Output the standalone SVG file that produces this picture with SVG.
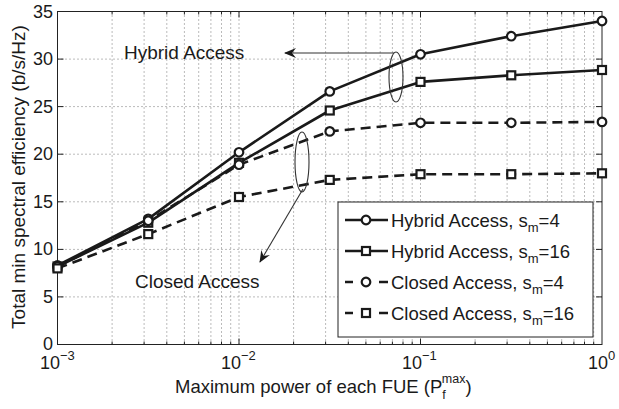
<svg xmlns="http://www.w3.org/2000/svg" width="619" height="409" viewBox="0 0 619 409">
  <style>
    text { font-family: "Liberation Sans", Arial, sans-serif; fill: #1a1a1a; }
    .tick { font-size: 18px; }
    .sup { font-size: 13px; }
    .lab { font-size: 19px; }
    .xlab { font-size: 18.5px; }
    .xsup { font-size: 12.5px; }
    .leg { font-size: 18.5px; }
    .lsub { font-size: 13px; }
    .grid line { stroke: #777; stroke-width: 1; stroke-dasharray: 1 3; }
    .curve { fill: none; stroke: #1a1a1a; stroke-width: 2.6; stroke-linejoin: round; }
    .dash { stroke-dasharray: 10 6; }
    .mk { fill: #fff; stroke: #1a1a1a; stroke-width: 2.2; }
    .note { fill: none; stroke: #333; stroke-width: 1.1; }
  </style>
  <defs>
    <g id="circ"><circle r="4.3" class="mk"/></g>
    <g id="sq"><rect x="-4" y="-4" width="8" height="8" class="mk"/></g>
    <marker id="arr" viewBox="0 0 12 10" refX="11" refY="5" markerWidth="12" markerHeight="10" markerUnits="userSpaceOnUse" orient="auto">
      <path d="M0,0 L12,5 L0,10 L4,5 Z" fill="#1a1a1a"/>
    </marker>
  </defs>

  <rect width="619" height="409" fill="#fff"/>

  <!-- grid: decades and sub-decades on x, every 5 on y -->
  <g class="grid">
    <line x1="112.1" y1="11.5" x2="112.1" y2="344.5"/><line x1="144.1" y1="11.5" x2="144.1" y2="344.5"/>
    <line x1="166.8" y1="11.5" x2="166.8" y2="344.5"/><line x1="184.4" y1="11.5" x2="184.4" y2="344.5"/>
    <line x1="198.7" y1="11.5" x2="198.7" y2="344.5"/><line x1="210.9" y1="11.5" x2="210.9" y2="344.5"/>
    <line x1="221.5" y1="11.5" x2="221.5" y2="344.5"/><line x1="230.7" y1="11.5" x2="230.7" y2="344.5"/>
    <line x1="239" y1="11.5" x2="239" y2="344.5"/>
    <line x1="293.6" y1="11.5" x2="293.6" y2="344.5"/><line x1="325.6" y1="11.5" x2="325.6" y2="344.5"/>
    <line x1="348.3" y1="11.5" x2="348.3" y2="344.5"/><line x1="365.9" y1="11.5" x2="365.9" y2="344.5"/>
    <line x1="380.2" y1="11.5" x2="380.2" y2="344.5"/><line x1="392.4" y1="11.5" x2="392.4" y2="344.5"/>
    <line x1="403" y1="11.5" x2="403" y2="344.5"/><line x1="412.2" y1="11.5" x2="412.2" y2="344.5"/>
    <line x1="420.5" y1="11.5" x2="420.5" y2="344.5"/>
    <line x1="475.1" y1="11.5" x2="475.1" y2="344.5"/><line x1="507.1" y1="11.5" x2="507.1" y2="344.5"/>
    <line x1="529.8" y1="11.5" x2="529.8" y2="344.5"/><line x1="547.4" y1="11.5" x2="547.4" y2="344.5"/>
    <line x1="561.7" y1="11.5" x2="561.7" y2="344.5"/><line x1="573.9" y1="11.5" x2="573.9" y2="344.5"/>
    <line x1="584.5" y1="11.5" x2="584.5" y2="344.5"/><line x1="593.7" y1="11.5" x2="593.7" y2="344.5"/>
    <line x1="57.5" y1="296.9" x2="602" y2="296.9"/><line x1="57.5" y1="249.4" x2="602" y2="249.4"/>
    <line x1="57.5" y1="201.8" x2="602" y2="201.8"/><line x1="57.5" y1="154.2" x2="602" y2="154.2"/>
    <line x1="57.5" y1="106.6" x2="602" y2="106.6"/><line x1="57.5" y1="59.1" x2="602" y2="59.1"/>
  </g>

  <!-- axes frame and inward ticks -->
  <g id="axes">
    <rect x="57.5" y="11.5" width="544.5" height="333" fill="none" stroke="#222" stroke-width="1"/>
    <path d="M112.1,344.5v-3M144.1,344.5v-3M166.8,344.5v-3M184.4,344.5v-3M198.7,344.5v-3M210.9,344.5v-3M221.5,344.5v-3M230.7,344.5v-3M239,344.5v-6
             M293.6,344.5v-3M325.6,344.5v-3M348.3,344.5v-3M365.9,344.5v-3M380.2,344.5v-3M392.4,344.5v-3M403,344.5v-3M412.2,344.5v-3M420.5,344.5v-6
             M475.1,344.5v-3M507.1,344.5v-3M529.8,344.5v-3M547.4,344.5v-3M561.7,344.5v-3M573.9,344.5v-3M584.5,344.5v-3M593.7,344.5v-3
             M112.1,11.5v3M144.1,11.5v3M166.8,11.5v3M184.4,11.5v3M198.7,11.5v3M210.9,11.5v3M221.5,11.5v3M230.7,11.5v3M239,11.5v6
             M293.6,11.5v3M325.6,11.5v3M348.3,11.5v3M365.9,11.5v3M380.2,11.5v3M392.4,11.5v3M403,11.5v3M412.2,11.5v3M420.5,11.5v6
             M475.1,11.5v3M507.1,11.5v3M529.8,11.5v3M547.4,11.5v3M561.7,11.5v3M573.9,11.5v3M584.5,11.5v3M593.7,11.5v3
             M57.5,296.9h6M57.5,249.4h6M57.5,201.8h6M57.5,154.2h6M57.5,106.6h6M57.5,59.1h6
             M602,296.9h-6M602,249.4h-6M602,201.8h-6M602,154.2h-6M602,106.6h-6M602,59.1h-6"
          fill="none" stroke="#222" stroke-width="1"/>
    <!-- y tick labels -->
    <g text-anchor="end">
      <text x="53" y="349.5" class="tick">0</text>
      <text x="53" y="302.9" class="tick">5</text>
      <text x="53" y="255.4" class="tick">10</text>
      <text x="53" y="207.8" class="tick">15</text>
      <text x="53" y="160.2" class="tick">20</text>
      <text x="53" y="112.6" class="tick">25</text>
      <text x="53" y="65.1" class="tick">30</text>
      <text x="53" y="17.5" class="tick">35</text>
    </g>
    <!-- x tick labels -->
    <text x="40" y="369" class="tick">10<tspan class="sup" dy="-9">−3</tspan></text>
    <text x="221" y="369" class="tick">10<tspan class="sup" dy="-9">−2</tspan></text>
    <text x="402" y="369" class="tick">10<tspan class="sup" dy="-9">−1</tspan></text>
    <text x="588" y="369" class="tick">10<tspan class="sup" dy="-9">0</tspan></text>
    <!-- axis titles -->
    <text x="175" y="393" class="xlab">Maximum power of each FUE (P<tspan class="xsup" dy="6">f</tspan><tspan class="xsup" dx="-4" dy="-16">max</tspan><tspan dy="10">)</tspan></text>
    <text transform="translate(25,177) rotate(-90)" text-anchor="middle" class="lab">Total min spectral efficiency (b/s/Hz)</text>
  </g>

  <!-- data curves -->
  <g id="curves">
    <g id="hybrid-sm4">
      <polyline class="curve" points="57.5,265.5 148.25,218.9 239,152.3 329.75,91.4 420.5,54.3 511.25,36.2 602,21"/>
      <use href="#circ" x="57.5" y="265.5"/><use href="#circ" x="148.25" y="218.9"/><use href="#circ" x="239" y="152.3"/>
      <use href="#circ" x="329.75" y="91.4"/><use href="#circ" x="420.5" y="54.3"/><use href="#circ" x="511.25" y="36.2"/><use href="#circ" x="602" y="21"/>
    </g>
    <g id="hybrid-sm16">
      <polyline class="curve" points="57.5,266.5 148.25,222.7 239,162.8 329.75,110.5 420.5,81.9 511.25,75.3 602,70"/>
      <use href="#sq" x="57.5" y="266.5"/><use href="#sq" x="148.25" y="222.7"/><use href="#sq" x="239" y="162.8"/>
      <use href="#sq" x="329.75" y="110.5"/><use href="#sq" x="420.5" y="81.9"/><use href="#sq" x="511.25" y="75.3"/><use href="#sq" x="602" y="70"/>
    </g>
    <g id="closed-sm4">
      <polyline class="curve dash" points="57.5,266.5 148.25,220.8 239,164.7 329.75,131.4 420.5,122.8 511.25,122.8 602,121.9"/>
      <use href="#circ" x="57.5" y="266.5"/><use href="#circ" x="148.25" y="220.8"/><use href="#circ" x="239" y="164.7"/>
      <use href="#circ" x="329.75" y="131.4"/><use href="#circ" x="420.5" y="122.8"/><use href="#circ" x="511.25" y="122.8"/><use href="#circ" x="602" y="121.9"/>
    </g>
    <g id="closed-sm16">
      <polyline class="curve dash" points="57.5,268.4 148.25,234.1 239,197 329.75,179.9 420.5,174.2 511.25,174.2 602,173.3"/>
      <use href="#sq" x="57.5" y="268.4"/><use href="#sq" x="148.25" y="234.1"/><use href="#sq" x="239" y="197"/>
      <use href="#sq" x="329.75" y="179.9"/><use href="#sq" x="420.5" y="174.2"/><use href="#sq" x="511.25" y="174.2"/><use href="#sq" x="602" y="173.3"/>
    </g>
  </g>

  <!-- callouts -->
  <g id="hybrid-note">
    <ellipse cx="396" cy="77" rx="7" ry="25" class="note"/>
    <line x1="394" y1="53" x2="285" y2="53" class="note" marker-end="url(#arr)"/>
    <text x="124" y="59" class="lab">Hybrid Access</text>
  </g>
  <g id="closed-note">
    <ellipse cx="302" cy="162" rx="7" ry="30" class="note"/>
    <line x1="303" y1="189" x2="260" y2="262" class="note" marker-end="url(#arr)"/>
    <text x="135" y="288" class="lab">Closed Access</text>
  </g>

  <!-- legend -->
  <g id="legend">
    <rect x="338" y="202" width="255" height="135" fill="#fff" stroke="#222" stroke-width="1"/>
    <line x1="345" y1="220" x2="388" y2="220" class="curve"/>
    <use href="#circ" x="366" y="220"/>
    <text x="391" y="227" class="leg">Hybrid Access, s<tspan class="lsub" dy="5">m</tspan><tspan dy="-5">=4</tspan></text>
    <line x1="345" y1="251" x2="388" y2="251" class="curve"/>
    <use href="#sq" x="366" y="251"/>
    <text x="391" y="258" class="leg">Hybrid Access, s<tspan class="lsub" dy="5">m</tspan><tspan dy="-5">=16</tspan></text>
    <path d="M345,282h8M379,282h9" class="curve"/>
    <use href="#circ" x="366" y="282"/>
    <text x="391" y="289" class="leg">Closed Access, s<tspan class="lsub" dy="5">m</tspan><tspan dy="-5">=4</tspan></text>
    <path d="M345,313h8M379,313h9" class="curve"/>
    <use href="#sq" x="366" y="313"/>
    <text x="391" y="320" class="leg">Closed Access, s<tspan class="lsub" dy="5">m</tspan><tspan dy="-5">=16</tspan></text>
  </g>
</svg>
